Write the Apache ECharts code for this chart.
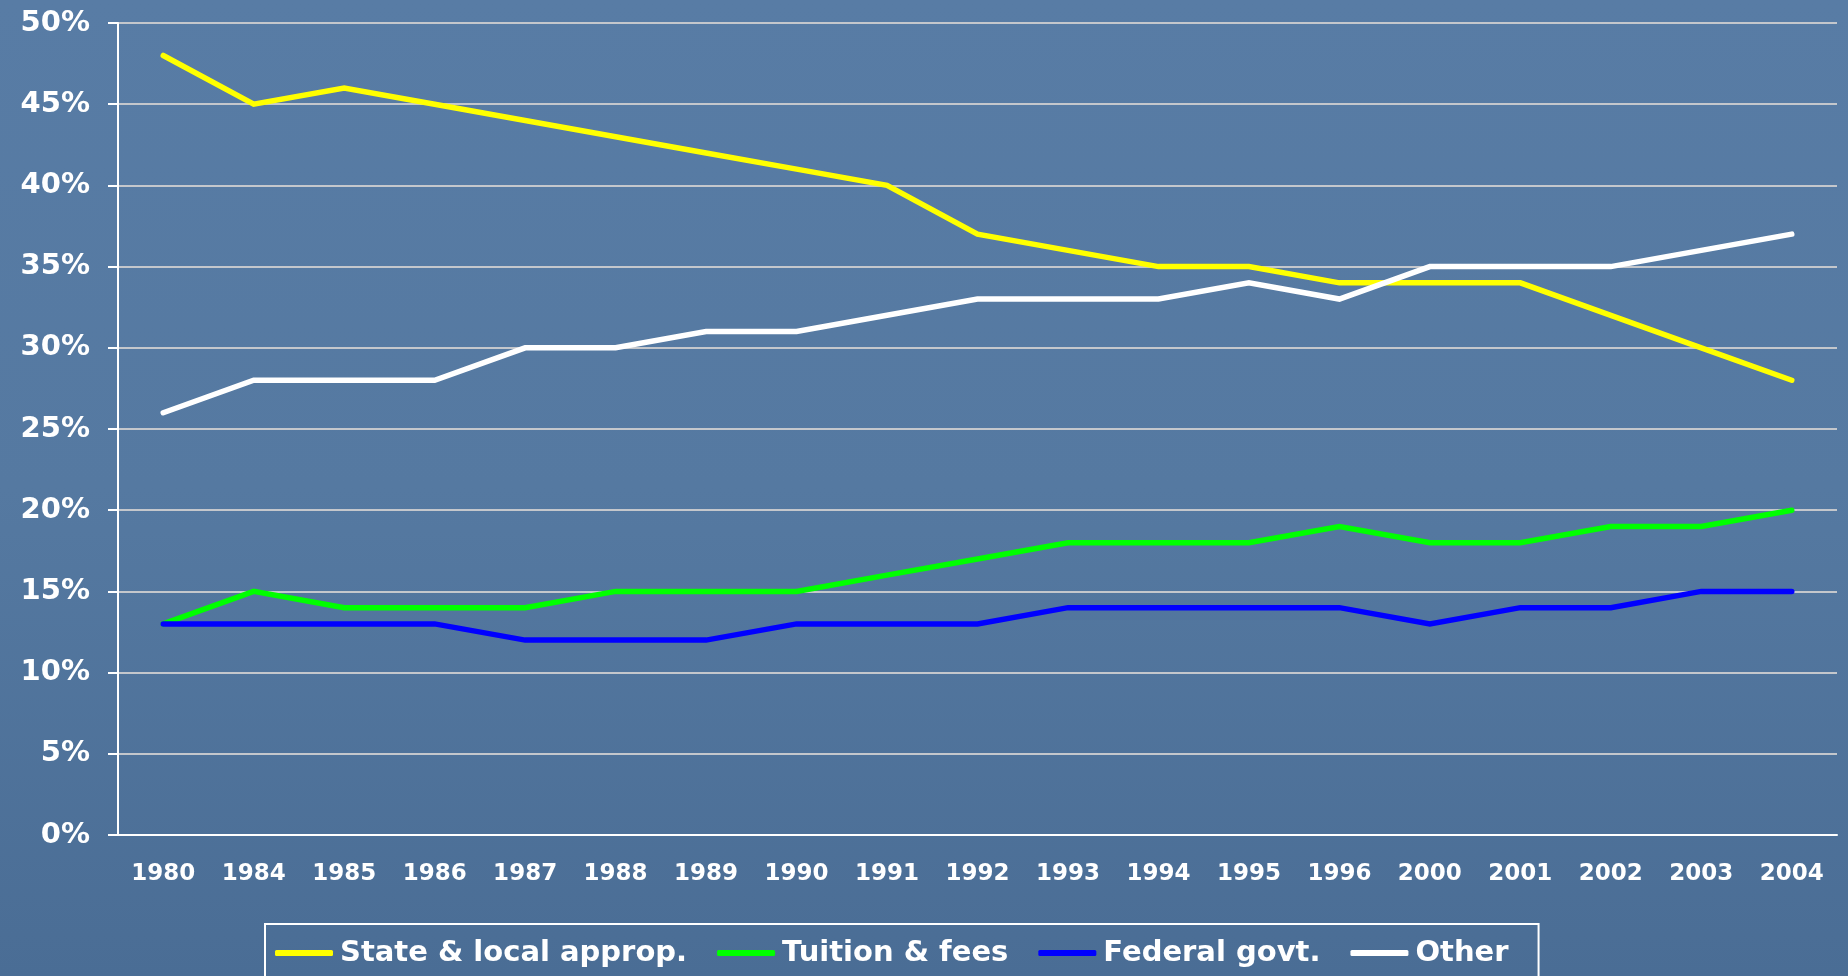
<!DOCTYPE html>
<html>
<head>
<meta charset="utf-8">
<script src="https://cdn.jsdelivr.net/npm/echarts@6/dist/echarts.min.js"></script>
<style>
html,body{margin:0;padding:0;width:1848px;height:976px;overflow:hidden;background:#51749c;}
#c{width:1848px;height:976px;}
</style>
</head>
<body>
<div id="c"></div>
<script>
var categories = ['1980','1984','1985','1986','1987','1988','1989','1990','1991','1992','1993','1994','1995','1996','2000','2001','2002','2003','2004'];
var stateLocal = [48,45,46,45,44,43,42,41,40,37,36,35,35,34,34,34,32,30,28];
var tuition    = [13,15,14,14,14,15,15,15,16,17,18,18,18,19,18,18,19,19,20];
var federal    = [13,13,13,13,12,12,12,13,13,13,14,14,14,14,13,14,14,15,15];
var other      = [26,28,28,28,30,30,31,31,32,33,33,33,34,33,35,35,35,36,37];
var seriesNames = ['State & local approp.','Tuition & fees','Federal govt.','Other'];
var seriesColors = ['#ffff00','#00ff00','#0000ff','#ffffff'];
var seriesData = [stateLocal, tuition, federal, other];

var chart = echarts.init(document.getElementById('c'));
var font = 'DejaVu Sans';
chart.setOption({
  backgroundColor: {
    type: 'linear', x: 0, y: 0, x2: 0, y2: 1,
    colorStops: [{offset: 0, color: '#587ca5'}, {offset: 0.5, color: '#5579a1'}, {offset: 1, color: '#4a6d95'}]
  },
  animation: false,
  grid: {left: 118, right: 11, top: 23, bottom: 141, containLabel: false},
  legend: {
    left: 265, top: 924,
    padding: [12, 30, 40, 10],
    borderColor: '#ffffff', borderWidth: 2,
    itemWidth: 58, itemHeight: 6, itemGap: 30,
    icon: 'roundRect',
    data: seriesNames,
    textStyle: {color: '#ffffff', fontFamily: font, fontWeight: 'bold', fontSize: 29, lineHeight: 34, padding: [0, 0, 0, 2]}
  },
  xAxis: {
    type: 'category', data: categories, boundaryGap: true,
    axisLine: {lineStyle: {color: '#ffffff', width: 2}},
    axisTick: {length: 8, lineStyle: {color: '#ffffff', width: 2}},
    axisLabel: {color: '#ffffff', fontFamily: font, fontWeight: 'bold', fontSize: 23, margin: 28, interval: 0},
    splitLine: {show: false}
  },
  yAxis: {
    type: 'value', min: 0, max: 50, interval: 5,
    axisLine: {show: true, lineStyle: {color: '#ffffff', width: 2}},
    axisTick: {show: true, length: 10, lineStyle: {color: '#ffffff', width: 2}},
    axisLabel: {color: '#ffffff', fontFamily: font, fontWeight: 'bold', fontSize: 29, margin: 28, formatter: '{value}%'},
    splitLine: {lineStyle: {color: '#c4c7cc', width: 2}}
  },
  series: seriesNames.map(function (n, i) {
    return {
      name: n, type: 'line', data: seriesData[i],
      showSymbol: false, symbol: 'none',
      itemStyle: {color: seriesColors[i]},
      lineStyle: {color: seriesColors[i], width: 5.5, cap: 'round', join: 'miter'}
    };
  })
});
</script>
</body>
</html>
